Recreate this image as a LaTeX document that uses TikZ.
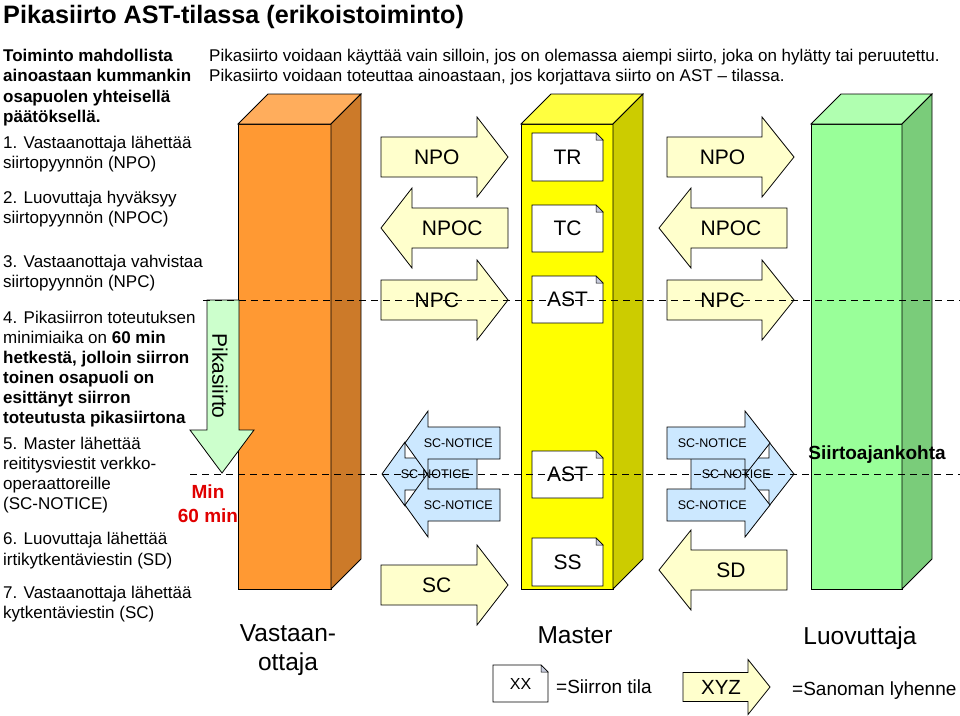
\documentclass[tikz,border=0pt]{standalone}
\usepackage{fontspec}
\setmainfont{Liberation Sans}
\pgfdeclarelayer{fg}
\pgfsetlayers{main,fg}
\definecolor{orF}{HTML}{FF9933}
\definecolor{orT}{HTML}{FFAD5C}
\definecolor{orS}{HTML}{CC7A29}
\definecolor{yeF}{HTML}{FFFF00}
\definecolor{yeT}{HTML}{FFFF40}
\definecolor{yeS}{HTML}{CCCC00}
\definecolor{grF}{HTML}{99FF99}
\definecolor{grT}{HTML}{B0FFB0}
\definecolor{grS}{HTML}{7ACC7A}
\definecolor{arrY}{HTML}{FFFFCC}
\definecolor{arrB}{HTML}{CCE8FF}
\definecolor{pikG}{HTML}{CCFFCC}
\definecolor{redT}{HTML}{E00000}
\definecolor{foldC}{HTML}{C8CCDD}
\newcommand{\fsz}[1]{\fontsize{#1}{#1}\selectfont}
\tikzset{
  outl/.style={draw=black, line width=0.8pt, line join=miter},
  lbl/.style={inner sep=0pt},
  ltxt/.style={anchor=base west, inner sep=0pt, font=\fsz{17}},
  bigl/.style={anchor=base, inner sep=0pt, font=\fsz{24.5}},
  dashline/.style={draw=black, line width=0.9pt, dash pattern=on 7pt off 5pt}
}
% horizontal block arrow: name, fill, tail x, head base x, tip x, centre y, half body, half head, label
\newcommand{\harr}[9]{%
  \filldraw[outl,fill=#2] (#3,{#6-#7}) -- (#4,{#6-#7}) -- (#4,{#6-#8}) -- (#5,#6) -- (#4,{#6+#8}) -- (#4,{#6+#7}) -- (#3,{#6+#7}) -- cycle;
  \begin{pgfonlayer}{fg}
  \node[lbl] (#1) at ({(2*#3+#4+#5)/4},#6) {#9};
  \end{pgfonlayer}}
% document box: name, x1, y1, x2, y2, label
\newcommand{\docbox}[6]{%
  \filldraw[outl,fill=white] (#2,#3) -- ({#4-7},#3) -- (#4,{#3+7}) -- (#4,#5) -- (#2,#5) -- cycle;
  \filldraw[draw=black,line width=0.5pt,fill=foldC] ({#4-7},#3) -- ({#4-7},{#3+7}) -- (#4,{#3+7}) -- cycle;
  \node[lbl] (#1) at ({(#2+#4)/2},{(#3+#5)/2}) {#6};}
% 3D pillar: x1, x2, top y, bottom y, front, top, side colours
\newcommand{\pillar}[7]{%
  \filldraw[outl,fill=#5] (#1,#3) rectangle (#2,#4);
  \filldraw[outl,fill=#6] (#1,#3) -- (#2,#3) -- ({#2+30},{#3-30}) -- ({#1+30},{#3-30}) -- cycle;
  \filldraw[outl,fill=#7] (#2,#3) -- ({#2+30},{#3-30}) -- ({#2+30},{#4-30}) -- (#2,#4) -- cycle;}
\begin{document}
\begin{tikzpicture}[x=1pt,y=-1pt]
\useasboundingbox (0,0) rectangle (960,715);

% title
\node[anchor=base west, inner sep=0pt, font=\bfseries\fsz{25.2}] (title) at (3,23) {Pikasiirto AST-tilassa (erikoistoiminto)};

% top explanation
\node[ltxt] (top1) at (209,61) {Pikasiirto voidaan käyttää vain silloin, jos on olemassa aiempi siirto, joka on hylätty tai peruutettu.};
\node[ltxt] (top2) at (209,81.5) {Pikasiirto voidaan toteuttaa ainoastaan, jos korjattava siirto on AST – tilassa.};

% left column
\node[ltxt] (b1) at (3,61) {\bfseries Toiminto mahdollista};
\node[ltxt] (b2) at (3,81.5) {\bfseries ainoastaan kummankin};
\node[ltxt] (b3) at (3,102) {\bfseries osapuolen yhteisellä};
\node[ltxt] (b4) at (3,122.5) {\bfseries päätöksellä.};
\node[ltxt] (s1a) at (3,148) {1. Vastaanottaja lähettää};
\node[ltxt] (s1b) at (3,168) {siirtopyynnön (NPO)};
\node[ltxt] (s2a) at (3,203) {2. Luovuttaja hyväksyy};
\node[ltxt] (s2b) at (3,223) {siirtopyynnön (NPOC)};
\node[ltxt] (s3a) at (3,267) {3. Vastaanottaja vahvistaa};
\node[ltxt] (s3b) at (3,287) {siirtopyynnön (NPC)};
\node[ltxt] (s4a) at (3,323) {4. Pikasiirron toteutuksen};
\node[ltxt] (s4b) at (3,343) {minimiaika on \textbf{60 min}};
\node[ltxt] (s4c) at (3,363) {\bfseries hetkestä, jolloin siirron};
\node[ltxt] (s4d) at (3,383) {\bfseries toinen osapuoli on};
\node[ltxt] (s4e) at (3,403) {\bfseries esittänyt siirron};
\node[ltxt] (s4f) at (3,423) {\bfseries toteutusta pikasiirtona};
\node[ltxt] (s5a) at (3,449) {5. Master lähettää};
\node[ltxt] (s5b) at (3,469) {reititysviestit verkko-};
\node[ltxt] (s5c) at (3,489) {operaattoreille};
\node[ltxt] (s5d) at (3,509) {(SC-NOTICE)};
\node[ltxt] (s6a) at (3,544) {6. Luovuttaja lähettää};
\node[ltxt] (s6b) at (3,565) {irtikytkentäviestin (SD)};
\node[ltxt] (s7a) at (3,598) {7. Vastaanottaja lähettää};
\node[ltxt] (s7b) at (3,618) {kytkentäviestin (SC)};

% pillars
\pillar{238}{331}{124}{589}{orF}{orT}{orS}
\pillar{521}{613}{124}{589}{yeF}{yeT}{yeS}
\pillar{811}{902}{124}{589}{grF}{grT}{grS}

% Pikasiirto arrow
\filldraw[outl,fill=pikG] (207,300) -- (239,300) -- (239,430) -- (254,430) -- (222,473) -- (190,430) -- (207,430) -- cycle;
\node[lbl, rotate=-90, font=\fsz{21}] (pika) at (220,376) {Pikasiirto};
\node[lbl, font=\bfseries\fsz{19}, text=redT] (min1) at (208,492) {Min};
\node[lbl, font=\bfseries\fsz{19}, text=redT] (min2) at (208,516) {60 min};

% message arrows, left side
\harr{npoL}{arrY}{381}{477}{508}{157}{20}{40}{\fsz{21}NPO}
\harr{npocL}{arrY}{508}{412}{381}{228}{20}{40}{\fsz{21}NPOC}
\harr{npcL}{arrY}{381}{477}{508}{300}{20}{40}{\fsz{21}NPC}
\harr{scnL2}{arrB}{477}{405}{382}{474}{16}{32}{\fsz{12.5}SC-NOTICE}
\harr{scnL1}{arrB}{500}{428}{405}{443}{16}{32}{\fsz{12.5}SC-NOTICE}
\harr{scnL3}{arrB}{500}{428}{405}{505}{16}{32}{\fsz{12.5}SC-NOTICE}
\harr{scL}{arrY}{381}{477}{508}{585}{20}{40}{\fsz{21}SC}

% message arrows, right side
\harr{npoR}{arrY}{667}{762}{794}{157}{20}{40}{\fsz{21}NPO}
\harr{npocR}{arrY}{787}{691}{659}{228}{20}{40}{\fsz{21}NPOC}
\harr{npcR}{arrY}{667}{762}{794}{300}{20}{40}{\fsz{21}NPC}
\harr{scnR2}{arrB}{691}{769}{794}{474}{16}{32}{\fsz{12.5}SC-NOTICE}
\harr{scnR1}{arrB}{667}{745}{770}{443}{16}{32}{\fsz{12.5}SC-NOTICE}
\harr{scnR3}{arrB}{667}{745}{770}{505}{16}{32}{\fsz{12.5}SC-NOTICE}
\harr{sdR}{arrY}{787}{691}{659}{570}{20}{40}{\fsz{21}SD}

% state documents on Master
\docbox{tr}{532}{133}{603}{181}{\fsz{21}TR}
\docbox{tc}{532}{205}{603}{252}{\fsz{21}TC}
\docbox{ast1}{532}{276}{603}{323}{\fsz{21}AST}
\docbox{ast2}{532}{451}{603}{498}{\fsz{21}AST}
\docbox{ss}{532}{538}{603}{586}{\fsz{21}SS}

% Siirtoajankohta
\node[anchor=base, inner sep=0pt, font=\bfseries\fsz{19}] (sak) at (877,459) {Siirtoajankohta};

% pillar labels
\node[bigl] (vast1) at (288,641) {Vastaan-};
\node[bigl] (vast2) at (288,670) {ottaja};
\node[bigl] (master) at (575,643) {Master};
\node[bigl] (luov) at (860,644) {Luovuttaja};

% legend
\docbox{legxx}{493}{665}{548}{702}{\fsz{16}XX}
\node[anchor=base west, inner sep=0pt, font=\fsz{19}] (legxxt) at (556,693) {=Siirron tila};
\harr{legxyz}{arrY}{683}{748}{770}{687}{14.5}{27.5}{\fsz{20.5}XYZ}
\node[anchor=base west, inner sep=0pt, font=\fsz{19}] (legxyzt) at (792,695) {=Sanoman lyhenne};

% dashed time lines
\begin{pgfonlayer}{fg}
\coordinate (dA1) at (203,300);
\coordinate (dA2) at (960,300);
\coordinate (dB1) at (190,474);
\coordinate (dB2) at (960,474);
\draw[dashline] (dA1) -- (dA2);
\draw[dashline] (dB1) -- (dB2);
\end{pgfonlayer}
\end{tikzpicture}
\end{document}
